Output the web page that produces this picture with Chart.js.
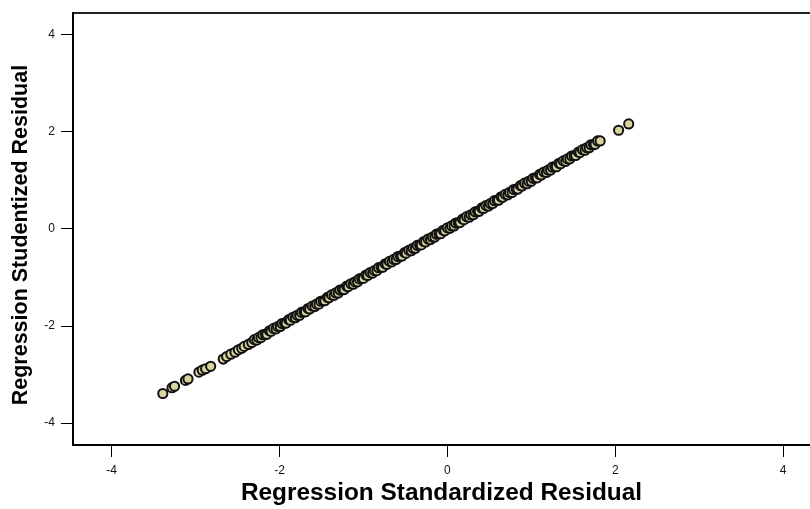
<!DOCTYPE html>
<html>
<head>
<meta charset="utf-8">
<script src="https://cdn.jsdelivr.net/npm/chart.js@4/dist/chart.umd.min.js"></script>
<style>
  html, body { margin: 0; padding: 0; background: #fff; overflow: hidden; }
  #wrap { width: 810px; height: 509px; }
</style>
</head>
<body>
<div id="wrap"><canvas id="c" width="810" height="509"></canvas></div>
<script>
// Regression Standardized Residual (x) vs Regression Studentized Residual (y)
const standardized = [
  -3.39, -3.28, -3.25, -3.12, -3.09, -2.96, -2.92, -2.88, -2.82, -2.67,
  -2.63, -2.58, -2.53, -2.49, -2.45, -2.42, -2.37, -2.33,
  -2.30, -2.27, -2.25, -2.22, -2.20, -2.17, -2.15, -2.12, -2.10, -2.07,
  -2.04, -2.02, -1.99, -1.97, -1.94, -1.92, -1.89, -1.87, -1.84, -1.81,
  -1.79, -1.76, -1.74, -1.71, -1.69, -1.66, -1.64, -1.61, -1.58, -1.56,
  -1.53, -1.51, -1.48, -1.46, -1.43, -1.41, -1.38, -1.35, -1.33, -1.30,
  -1.28, -1.25, -1.23, -1.20, -1.18, -1.15, -1.12, -1.10, -1.07, -1.05,
  -1.02, -1.00, -0.97, -0.95, -0.92, -0.89, -0.87, -0.84, -0.82, -0.79,
  -0.77, -0.74, -0.72, -0.69, -0.66, -0.64, -0.61, -0.59, -0.56, -0.54,
  -0.51, -0.49, -0.46, -0.43, -0.41, -0.38, -0.36, -0.33, -0.31, -0.28,
  -0.26, -0.23, -0.20, -0.18, -0.15, -0.13, -0.10, -0.08, -0.05, -0.03,
  0.00, 0.03, 0.05, 0.08, 0.10, 0.13, 0.15, 0.18, 0.20, 0.23,
  0.26, 0.28, 0.31, 0.33, 0.36, 0.38, 0.41, 0.43, 0.46, 0.49,
  0.51, 0.54, 0.56, 0.59, 0.61, 0.64, 0.66, 0.69, 0.72, 0.74,
  0.77, 0.79, 0.82, 0.84, 0.87, 0.89, 0.92, 0.95, 0.97, 1.00,
  1.02, 1.05, 1.07, 1.10, 1.12, 1.15, 1.18, 1.20, 1.23, 1.25,
  1.28, 1.30, 1.33, 1.35, 1.38, 1.41, 1.43, 1.46, 1.48, 1.51,
  1.53, 1.56, 1.58, 1.61, 1.64, 1.66, 1.69, 1.71, 1.74, 1.76,
  1.79, 1.82, 2.04, 2.16
];
const studentized = [
  -3.39, -3.27, -3.24, -3.12, -3.09, -2.95, -2.91, -2.88, -2.83, -2.68,
  -2.63, -2.58, -2.54, -2.49, -2.46, -2.42, -2.38, -2.34,
  -2.28, -2.29, -2.24, -2.24, -2.18, -2.17, -2.17, -2.10, -2.11, -2.05,
  -2.06, -2.01, -2.01, -1.95, -1.94, -1.94, -1.87, -1.88, -1.82, -1.83,
  -1.78, -1.78, -1.72, -1.71, -1.71, -1.64, -1.65, -1.59, -1.60, -1.55,
  -1.55, -1.49, -1.48, -1.48, -1.41, -1.42, -1.36, -1.37, -1.32, -1.32,
  -1.26, -1.25, -1.25, -1.18, -1.19, -1.13, -1.14, -1.09, -1.09, -1.03,
  -1.02, -1.02, -0.95, -0.96, -0.90, -0.91, -0.86, -0.86, -0.80, -0.79,
  -0.79, -0.72, -0.73, -0.67, -0.68, -0.63, -0.63, -0.57, -0.56, -0.56,
  -0.49, -0.50, -0.44, -0.45, -0.40, -0.40, -0.34, -0.33, -0.33, -0.26,
  -0.27, -0.21, -0.22, -0.17, -0.17, -0.11, -0.10, -0.10, -0.03, -0.04,
  0.02, 0.01, 0.06, 0.06, 0.12, 0.13, 0.13, 0.20, 0.19, 0.25,
  0.24, 0.29, 0.29, 0.35, 0.36, 0.36, 0.43, 0.42, 0.48, 0.47,
  0.52, 0.52, 0.58, 0.59, 0.59, 0.66, 0.65, 0.71, 0.70, 0.75,
  0.75, 0.81, 0.82, 0.82, 0.89, 0.88, 0.94, 0.93, 0.98, 0.98,
  1.04, 1.05, 1.05, 1.12, 1.11, 1.17, 1.16, 1.21, 1.21, 1.27,
  1.28, 1.28, 1.35, 1.34, 1.40, 1.39, 1.44, 1.44, 1.50, 1.51,
  1.51, 1.58, 1.57, 1.63, 1.62, 1.67, 1.67, 1.73, 1.74, 1.74,
  1.81, 1.81, 2.03, 2.16
];
const xTickValues = [-4, -2, 0, 2, 4];
const yTickValues = [-4, -2, 0, 2, 4];
const xTitle = 'Regression Standardized Residual';
const yTitle = 'Regression Studentized Residual  ';

const points = standardized.map((x, i) => ({ x: x, y: studentized[i] }));

const FONT = "'Liberation Sans', Arial, sans-serif";

new Chart(document.getElementById('c'), {
  type: 'scatter',
  data: {
    datasets: [{
      data: points,
      pointRadius: 4.6,
      pointHoverRadius: 4.6,
      pointBorderWidth: 2,
      pointBorderColor: '#111111',
      pointBackgroundColor: '#D8D4A0'
    }]
  },
  options: {
    responsive: false,
    devicePixelRatio: 1,
    animation: false,
    layout: { autoPadding: false, padding: { top: 13, right: 0, left: 0, bottom: 0 } },
    plugins: { legend: { display: false }, tooltip: { enabled: false } },
    scales: {
      x: {
        type: 'linear',
        position: 'bottom',
        min: -4.46,
        max: 4.32,
        afterBuildTicks: s => { s.ticks = xTickValues.map(v => ({ value: v })); },
        afterFit: s => { s.height = 64; s.paddingLeft = 0; s.paddingRight = 0; },
        grid: { drawOnChartArea: false, drawTicks: true, tickLength: 12, color: '#000', lineWidth: 1 },
        border: { display: true, color: '#000', width: 2 },
        ticks: { color: '#111', font: { family: FONT, size: 12 }, padding: 6, maxRotation: 0 },
        title: { display: true, text: xTitle, color: '#000', font: { family: FONT, size: 24.4, weight: 'bold' }, padding: { top: 0, bottom: 1 } }
      },
      xTop: {
        type: 'linear',
        position: 'top',
        min: -4.46,
        max: 4.32,
        afterFit: s => { s.height = 0; s.paddingLeft = 0; s.paddingRight = 0; },
        grid: { display: false, drawTicks: false },
        border: { display: true, color: '#222', width: 2 },
        ticks: { display: false }
      },
      y: {
        type: 'linear',
        position: 'left',
        min: -4.45,
        max: 4.44,
        afterBuildTicks: s => { s.ticks = yTickValues.map(v => ({ value: v })); },
        afterFit: s => { s.width = 73; },
        grid: { drawOnChartArea: false, drawTicks: true, tickLength: 12, color: '#000', lineWidth: 1 },
        border: { display: true, color: '#000', width: 2 },
        ticks: { color: '#111', font: { family: FONT, size: 12 }, padding: 6 },
        title: { display: true, text: yTitle, color: '#000', font: { family: FONT, size: 21.5, weight: 'bold' }, padding: { top: 8, bottom: 0 } }
      }
    }
  }
});
</script>
</body>
</html>
